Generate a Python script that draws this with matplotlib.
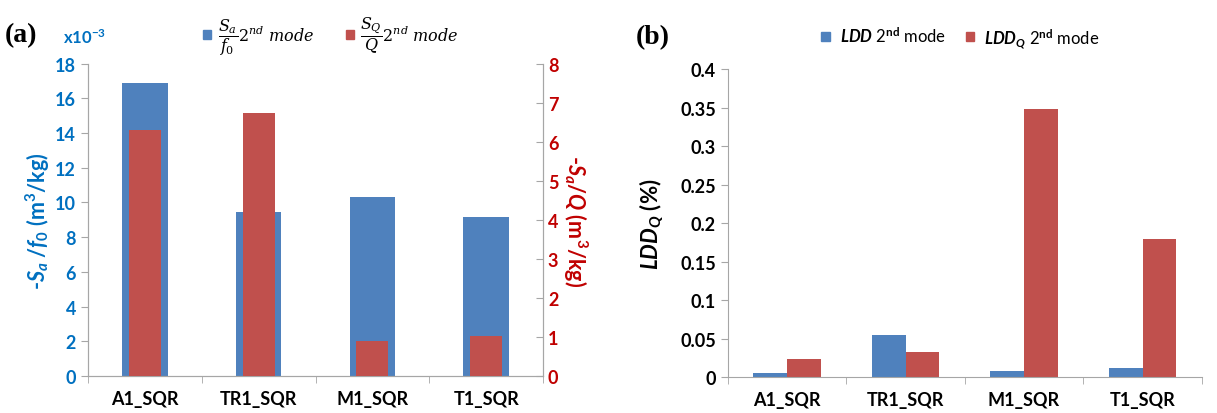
import matplotlib
matplotlib.use('Agg')
import matplotlib.pyplot as plt
import numpy as np
from matplotlib.patches import Patch

plt.rcParams['font.family'] = ['Lato', 'DejaVu Sans']
plt.rcParams['mathtext.fontset'] = 'custom'
plt.rcParams['mathtext.rm'] = 'Lato:bold'
plt.rcParams['mathtext.it'] = 'Lato:bold:italic'
plt.rcParams['mathtext.bf'] = 'Lato:bold'

categories = ['A1_SQR', 'TR1_SQR', 'M1_SQR', 'T1_SQR']
# panel (a): Sa/f0 in units of 1e-3, Sa/Q on the right axis
sa_f0 = [16.9, 9.43, 10.29, 9.14]
sq_q = [6.31, 6.74, 0.89, 1.02]
# panel (b)
ldd = [0.0056, 0.054, 0.0082, 0.012]
ldd_q = [0.023, 0.032, 0.349, 0.179]

BLUE = '#4F81BD'
RED = '#C0504D'
BLUE_TXT = '#0070C0'
RED_TXT = '#C00000'
GRAY = '#A6A6A6'

fig = plt.figure(figsize=(12.17, 4.14), dpi=100)
x = np.arange(len(categories))

# ---------- panel (a) ----------
ax1 = fig.add_axes([0.0723, 0.0894, 0.3739, 0.7548])
ax1.bar(x, sa_f0, width=0.4, color=BLUE, zorder=2)
ax1.set_xlim(-0.5, 3.5)
ax1.set_ylim(0, 18)
ax1.set_yticks(np.arange(0, 19, 2))
ax1.tick_params(axis='y', colors=GRAY, labelcolor=BLUE_TXT, labelsize=13, length=5, direction='out')
for lab in ax1.get_yticklabels():
    lab.set_fontweight('bold')
ax1.set_xticks(x)
ax1.set_xticklabels(categories, fontsize=13, fontweight='bold')
ax1.set_xticks(np.arange(-0.5, 4, 1), minor=True)
ax1.tick_params(axis='x', which='major', length=0, pad=10)
ax1.tick_params(axis='x', which='minor', length=5, color=GRAY, direction='out')
ax1.set_ylabel(r'-$S_a$ /$f_0$ (m$^3$/kg)', color=BLUE_TXT, fontsize=15.5, fontweight='bold', labelpad=2)
ax1.spines['top'].set_visible(False)
for s in ['left', 'bottom', 'right']:
    ax1.spines[s].set_color(GRAY)

ax2 = ax1.twinx()
ax2.bar(x, sq_q, width=0.28, color=RED, zorder=3)
ax2.set_ylim(0, 8)
ax2.set_yticks(np.arange(0, 9, 1))
ax2.tick_params(axis='y', colors=GRAY, labelcolor=RED_TXT, labelsize=13, length=5, direction='in')
for lab in ax2.get_yticklabels():
    lab.set_fontweight('bold')
ax2.set_ylabel(r'-$S_a$/$Q$ (m$^3$/kg)', color=RED_TXT, fontsize=15.5, fontweight='bold',
               rotation=270, labelpad=22)
ax2.spines['top'].set_visible(False)
for s in ['left', 'bottom', 'right']:
    ax2.spines[s].set_color(GRAY)

fig.text(0.004, 0.915, '(a)', fontsize=20, fontweight='bold', family='Liberation Serif', va='center')
fig.text(0.052, 0.91, r'x10$^{-3}$', fontsize=12, fontweight='bold', color=BLUE_TXT, va='center')

leg_a = [Patch(color=BLUE, label=r'$\dfrac{S_a}{f_0}2^{nd}\ mode$'),
         Patch(color=RED, label=r'$\dfrac{S_Q}{Q}2^{nd}\ mode$')]
fig.legend(handles=leg_a, loc='center', bbox_to_anchor=(0.272, 0.912), ncol=2, frameon=False,
           handlelength=0.5, handleheight=0.5, handletextpad=0.4, columnspacing=2.0,
           prop={'family': 'DejaVu Serif', 'size': 11.5, 'math_fontfamily': 'dejavuserif'})

# ---------- panel (b) ----------
ax3 = fig.add_axes([0.598, 0.087, 0.3895, 0.743])
w = 0.286
ax3.bar(x - w / 2, ldd, width=w, color=BLUE, zorder=2)
ax3.bar(x + w / 2, ldd_q, width=w, color=RED, zorder=2)
ax3.set_xlim(-0.5, 3.5)
ax3.set_ylim(0, 0.4)
ax3.set_yticks(np.arange(0, 0.41, 0.05))
ax3.set_yticklabels(['0', '0.05', '0.1', '0.15', '0.2', '0.25', '0.3', '0.35', '0.4'])
ax3.tick_params(axis='y', colors=GRAY, labelcolor='black', labelsize=13, length=5, direction='out')
for lab in ax3.get_yticklabels():
    lab.set_fontweight('bold')
ax3.set_xticks(x)
ax3.set_xticklabels(categories, fontsize=13, fontweight='bold')
ax3.set_xticks(np.arange(-0.5, 4, 1), minor=True)
ax3.tick_params(axis='x', which='major', length=0, pad=10)
ax3.tick_params(axis='x', which='minor', length=5, color=GRAY, direction='out')
ax3.set_ylabel(r'$LDD_Q$ (%)', fontsize=16, fontweight='bold', labelpad=10)
ax3.spines['top'].set_visible(False)
ax3.spines['right'].set_visible(False)
ax3.spines['left'].set_color(GRAY)
ax3.spines['bottom'].set_color(GRAY)

fig.text(0.522, 0.908, '(b)', fontsize=20, fontweight='bold', family='Liberation Serif', va='center')

leg_b = [Patch(color=BLUE, label=r'$LDD$ 2$^{\mathrm{nd}}$ mode'),
         Patch(color=RED, label=r'$LDD_Q$ 2$^{\mathrm{nd}}$ mode')]
fig.legend(handles=leg_b, loc='center', bbox_to_anchor=(0.789, 0.908), ncol=2, frameon=False,
           handlelength=0.5, handleheight=0.5, handletextpad=0.6, columnspacing=1.2,
           prop={'size': 12})

fig.savefig('out.png', dpi=100)
